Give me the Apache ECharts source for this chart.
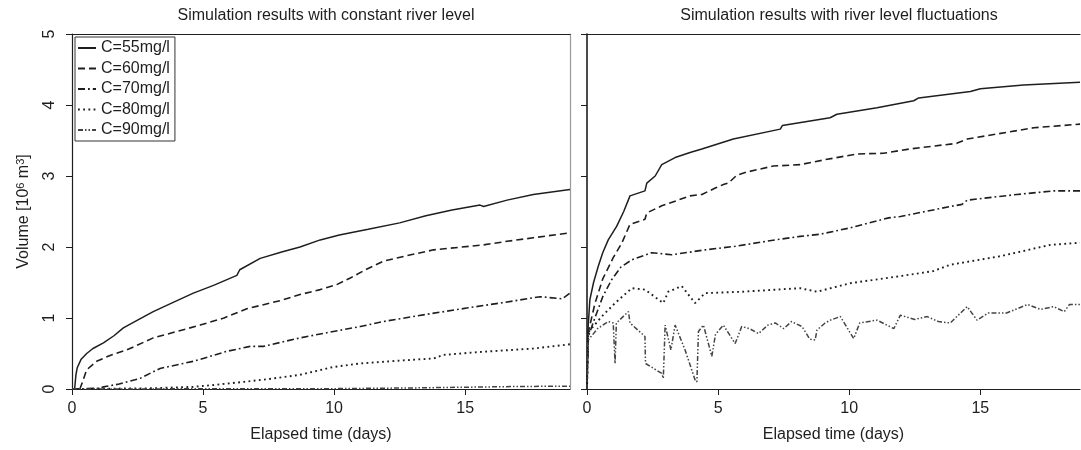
<!DOCTYPE html>
<html>
<head>
<meta charset="utf-8">
<script src="https://cdn.jsdelivr.net/npm/echarts@6/dist/echarts.min.js"></script>
<style>
  html, body { margin: 0; padding: 0; background: #fff; }
  #chart { width: 1081px; height: 450px; }
</style>
</head>
<body>
<div id="chart"></div>
<script>
  // series names (legend)
  const names = ['C=55mg/l', 'C=60mg/l', 'C=70mg/l', 'C=80mg/l', 'C=90mg/l']
  const titles = ['Simulation results with constant river level', 'Simulation results with river level fluctuations']

  // constant river level: [days, volume 10^6 m3]
  const c55Const = [[0.1,0],[0.15,0.2],[0.2,0.3],[0.35,0.42],[0.56,0.5],[0.8,0.57],[1.2,0.65],[1.6,0.75],[1.96,0.86],[2.5,0.97],[3.1,1.09],[3.8,1.21],[4.63,1.35],[4.7,1.37],[5.4,1.46],[6.29,1.6],[6.4,1.68],[7.18,1.84],[8,1.93],[8.7,2.0],[9.47,2.1],[10.2,2.17],[11.3,2.25],[12.5,2.34],[13.5,2.44],[14.5,2.52],[15.57,2.59],[15.7,2.57],[16.6,2.66],[17.6,2.74],[19,2.81]]
  const c60Const = [[0.3,0],[0.4,0.1],[0.56,0.27],[0.94,0.39],[1.5,0.48],[2.09,0.55],[3.1,0.72],[4,0.81],[4.89,0.9],[5.8,1.0],[6.67,1.13],[8,1.25],[8.7,1.33],[9.47,1.4],[10.1,1.47],[10.6,1.56],[11.2,1.68],[11.88,1.8],[12.8,1.88],[13.8,1.96],[15.7,2.03],[16.6,2.08],[17.6,2.13],[19,2.2]]
  const c70Const = [[0,0],[1,0.01],[1.2,0.03],[1.8,0.07],[2.6,0.15],[3.36,0.29],[4.63,0.39],[5.9,0.53],[6.8,0.6],[7.3,0.6],[8.7,0.72],[9.97,0.81],[11,0.88],[11.88,0.95],[13.5,1.05],[15.06,1.14],[16.5,1.22],[17.86,1.3],[18.7,1.27],[19,1.35]]
  const c80Const = [[0,0],[3,0.01],[4.63,0.03],[5.5,0.06],[6.54,0.1],[7.5,0.14],[8.7,0.2],[9.97,0.31],[11,0.36],[12.5,0.4],[13.8,0.43],[14.17,0.48],[15.5,0.52],[17.6,0.57],[19,0.63]]
  const c90Const = [[0,0],[10,0.005],[13,0.015],[15,0.025],[17,0.035],[19,0.04]]

  // river level fluctuations
  const c55Fluct = [[0,0],[0.03,0.8],[0.11,1.26],[0.25,1.5],[0.43,1.73],[0.6,1.92],[0.81,2.1],[1.13,2.29],[1.4,2.5],[1.64,2.72],[2.21,2.79],[2.28,2.9],[2.6,3.0],[2.85,3.16],[3.36,3.26],[3.93,3.33],[4.38,3.38],[5.58,3.52],[7.37,3.66],[7.45,3.71],[9.27,3.82],[9.53,3.87],[11.06,3.96],[12.46,4.06],[12.65,4.1],[14.62,4.19],[15,4.23],[16.65,4.28],[18.8,4.32]]
  const c60Fluct = [[0,0],[0.05,0.8],[0.3,1.2],[0.6,1.55],[1.0,1.85],[1.32,2.05],[1.64,2.32],[2.21,2.39],[2.28,2.48],[2.85,2.58],[3.93,2.72],[4.38,2.74],[4.89,2.83],[5.2,2.88],[5.39,2.9],[5.71,3.01],[6.03,3.05],[7.1,3.14],[8.13,3.16],[9.08,3.23],[10.29,3.31],[11.3,3.32],[12.3,3.38],[14.1,3.46],[14.5,3.52],[17.04,3.68],[18.8,3.73]]
  const c70Fluct = [[0,0],[0.05,0.74],[0.3,1.0],[0.6,1.3],[0.94,1.54],[1.3,1.72],[1.71,1.82],[2.47,1.92],[3.23,1.89],[4.5,1.96],[5.65,2.01],[7.18,2.1],[8.13,2.15],[8.89,2.18],[10.04,2.27],[11.5,2.41],[11.95,2.43],[13.85,2.57],[14.3,2.6],[14.5,2.66],[16.4,2.74],[17.8,2.79],[18.8,2.79]]
  const c80Fluct = [[0,0],[0.05,0.8],[0.56,1.02],[1.07,1.21],[1.71,1.42],[2.21,1.4],[2.91,1.21],[3.1,1.37],[3.61,1.45],[4.12,1.21],[4.5,1.35],[5.9,1.37],[8.13,1.42],[8.77,1.37],[10.04,1.49],[11.95,1.59],[13.2,1.66],[13.85,1.75],[15.76,1.87],[17.67,2.03],[18.8,2.06]]
  const c90Fluct = [[0,0],[0.02,0.6],[0.05,0.69],[0.4,0.85],[0.81,0.95],[1.0,0.93],[1.07,0.36],[1.12,0.93],[1.58,1.09],[1.64,0.93],[2.21,0.74],[2.23,0.36],[2.85,0.22],[2.91,0.15],[2.98,0.9],[3.2,0.55],[3.36,0.9],[3.74,0.55],[4.12,0.13],[4.19,0.1],[4.25,0.81],[4.44,0.9],[4.76,0.46],[4.9,0.77],[5.2,0.9],[5.65,0.64],[5.9,0.88],[6.2,0.85],[6.54,0.78],[6.9,0.9],[7.18,0.93],[7.5,0.85],[7.8,0.95],[8.2,0.88],[8.5,0.7],[8.7,0.69],[8.77,0.83],[9.08,0.93],[9.28,0.97],[9.66,1.02],[10.17,0.71],[10.4,0.93],[11.06,0.97],[11.7,0.85],[11.95,1.04],[12.5,0.98],[12.97,1.02],[13.4,0.95],[13.85,0.93],[14.5,1.16],[14.87,0.97],[15.3,1.07],[16.0,1.07],[16.8,1.19],[17.3,1.12],[17.8,1.16],[18.2,1.09],[18.4,1.19],[18.8,1.19]]

  const constData = [c55Const, c60Const, c70Const, c80Const, c90Const]
  const fluctData = [c55Fluct, c60Fluct, c70Fluct, c80Fluct, c90Fluct]

  const font = "'Liberation Sans', Arial, Helvetica, sans-serif"
  const ink = '#1e1e1e'
  const dashes = ['solid', [7, 4], [7, 3, 1.8, 3], [1.8, 3.4], [5, 2, 1.5, 2, 1.5, 2]]
  const widths = [1.5, 1.6, 1.6, 1.9, 1.5]
  const colors = [ink, ink, ink, ink, '#444']

  const chart = echarts.init(document.getElementById('chart'))

  function makeSeries(list, gi) {
    return list.map((d, i) => ({
      name: names[i],
      type: 'line',
      xAxisIndex: gi * 2,
      yAxisIndex: gi * 2,
      data: d,
      symbol: 'none',
      symbolSize: 0,
      silent: true,
      lineStyle: { color: colors[i], width: widths[i], type: dashes[i] },
      itemStyle: { color: colors[i] },
    }))
  }

  const baseX = (gi, max) => ({
    gridIndex: gi, type: 'value', min: 0, max: max, interval: 5,
    axisLine: { onZero: false, lineStyle: { color: ink, width: 1.2 } },
    axisTick: { length: 6, lineStyle: { color: ink } },
    axisLabel: { color: ink, fontSize: 16, fontFamily: font, margin: 12, showMaxLabel: false },
    splitLine: { show: false },
    name: 'Elapsed time (days)', nameLocation: 'middle', nameGap: 38,
    nameTextStyle: { color: ink, fontSize: 16, fontFamily: font },
  })
  const lineOnly = (gi, max, pos, color) => ({
    gridIndex: gi, type: 'value', min: 0, max: max, position: pos,
    axisLine: { show: true, onZero: false, lineStyle: { color: color, width: 1.2 } },
    axisTick: { show: false }, axisLabel: { show: false }, splitLine: { show: false },
  })
  const baseY = (gi, labels) => ({
    gridIndex: gi, type: 'value', min: 0, max: 5, interval: 1,
    axisLine: { show: true, onZero: false, lineStyle: { color: ink, width: gi ? 1.6 : 1.2 } },
    axisTick: { show: true, length: 6, lineStyle: { color: ink } },
    axisLabel: { show: labels, color: ink, fontSize: 16, fontFamily: font, rotate: 90, margin: 14 },
    splitLine: { show: false },
  })

  const yLeft = baseY(0, true)
  yLeft.name = 'Volume [10{sup|6} m{sup|3}]'
  yLeft.nameLocation = 'middle'
  yLeft.nameGap = 40
  yLeft.nameTextStyle = {
    color: ink, fontSize: 16, fontFamily: font,
    rich: { sup: { fontSize: 11, fontFamily: font, color: ink, verticalAlign: 'top', padding: [0, 0, 6, 0] } },
  }

  const option = {
    animation: false,
    backgroundColor: '#fff',
    textStyle: { fontFamily: font },
    title: [
      { text: titles[0], left: 321, top: 3, textAlign: 'center', textStyle: { color: ink, fontSize: 16, fontWeight: 'normal', fontFamily: font } },
      { text: titles[1], left: 834, top: 3, textAlign: 'center', textStyle: { color: ink, fontSize: 16, fontWeight: 'normal', fontFamily: font } },
    ],
    legend: {
      data: names, orient: 'vertical', left: 75, top: 37,
      selectedMode: false,
      borderColor: '#333', borderWidth: 1, padding: [3, 5, 3, 2],
      itemWidth: 18, itemHeight: 14, itemGap: 4.5,
      itemStyle: { opacity: 0 },
      textStyle: { color: ink, fontSize: 16, lineHeight: 16, fontFamily: font },
    },
    grid: [
      { left: 72, top: 34, width: 498, height: 355 },
      { left: 587, top: 34, width: 493, height: 355 },
    ],
    xAxis: [
      baseX(0, 19), lineOnly(0, 19, 'top', ink),
      baseX(1, 18.8), lineOnly(1, 18.8, 'top', ink),
    ],
    yAxis: [
      yLeft, lineOnly(0, 5, 'right', '#9a9a9a'),
      baseY(1, false), Object.assign(lineOnly(1, 5, 'right', '#fff'), { show: false }),
    ],
    series: [...makeSeries(constData, 0), ...makeSeries(fluctData, 1)],
  }
  chart.setOption(option)
</script>
</body>
</html>
